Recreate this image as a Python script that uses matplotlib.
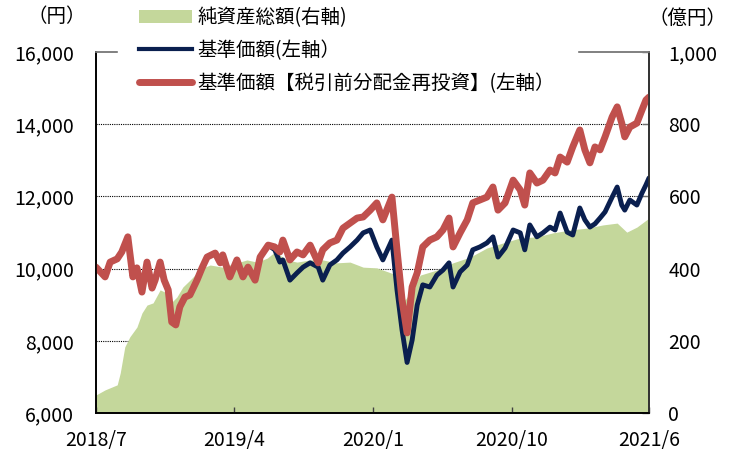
import matplotlib
matplotlib.use('Agg')
import matplotlib.pyplot as plt
from matplotlib.patches import Patch
from matplotlib.lines import Line2D
from matplotlib.ticker import FuncFormatter
import pandas as pd

plt.rcParams['font.family'] = ['Noto Sans CJK JP', 'DejaVu Sans']

start = pd.Timestamp('2018-07-01')
end = pd.Timestamp('2021-06-30')

# 基準価額の読み取り位置 (設定日からの日数)
line_days = [0, 18, 28, 42, 51, 63, 73, 81, 91, 101,
             111, 117, 127, 135, 143, 150, 158, 166, 176, 186,
             200, 210, 220, 236, 246, 251, 265, 279, 291, 301,
             315, 325, 341,
             354, 364, 370, 384, 398, 410, 424, 440, 449, 463,
             477, 489, 503, 517, 529, 543, 556, 568, 586, 596,
             606, 616, 626, 636, 647, 661, 675, 687, 699, 707,
             721, 735, 746, 760, 774, 786, 796, 810, 826, 840,
             849, 859, 873, 885, 899, 909,
             919, 933, 944, 958, 968, 978, 988, 998, 1008, 1022,
             1032, 1041, 1047, 1057, 1071, 1081, 1089, 1095]

# 基準価額【税引前分配金再投資】(円)
reinvest = [10040, 9770, 10180, 10270, 10460, 10880, 9770, 10020, 9350, 10180,
            9460, 9680, 10180, 9680, 9410, 8520, 8440, 8940, 9210, 9270,
            9680, 10020, 10320, 10430, 10160, 10380, 9770, 10240, 9770, 10040,
            9680, 10320, 10650,
            10600, 10460, 10790, 10240, 10460, 10380, 10650, 10160, 10520, 10710,
            10790, 11120, 11260, 11400, 11430, 11620, 11820, 11350, 11980, 10520,
            9130, 8220, 9490, 9880, 10600, 10790, 10880, 11070, 11400, 10600,
            10990, 11350, 11820, 11900, 11980, 12260, 11620, 11820, 12450, 12180,
            11760, 12650, 12370, 12450, 12730, 12650,
            13090, 12950, 13370, 13840, 13290, 12930, 13370, 13290, 13650, 14200,
            14480, 14030, 13650, 13920, 14030, 14390, 14670, 14750]

# 基準価額 (円)
nav = [10040, 9770, 10180, 10270, 10460, 10880, 9770, 10020, 9350, 10180,
       9460, 9680, 10180, 9680, 9410, 8520, 8440, 8940, 9210, 9270,
       9680, 10020, 10320, 10430, 10160, 10380, 9770, 10240, 9770, 10040,
       9680, 10320, 10650,
       10520, 10180, 10240, 9680, 9880, 10040, 10160, 10040, 9680, 10100,
       10240, 10430, 10600, 10790, 10990, 11070, 10600, 10240, 10790, 9410,
       8300, 7400, 8020, 8990, 9550, 9490, 9820, 9960, 10160, 9490,
       9910, 10100, 10520, 10600, 10710, 10880, 10320, 10570, 11070, 10990,
       10520, 11210, 10880, 10990, 11150, 11070,
       11540, 11010, 10930, 11680, 11350, 11150, 11240, 11400, 11570, 11980,
       12260, 11760, 11620, 11900, 11760, 12090, 12320, 12510]

# 純資産総額 (億円)
aum_days = [0, 18, 42, 48, 57, 67, 81, 91, 101, 113,
            127, 141, 150, 160, 172, 186, 200, 212, 226, 251,
            279, 299, 319, 339, 354, 378, 398, 424, 449, 477,
            503, 529, 556, 578, 596, 612, 626, 642, 675, 707,
            741, 774, 806, 840, 873, 905, 939, 972, 1004, 1032,
            1051, 1071, 1095]
aum = [50, 64, 78, 111, 183, 211, 238, 277, 299, 305,
       341, 332, 307, 321, 349, 368, 388, 402, 410, 404,
       416, 424, 418, 429, 446, 424, 418, 424, 424, 416,
       418, 404, 402, 391, 382, 313, 341, 382, 396, 416,
       432, 457, 471, 485, 488, 499, 507, 512, 521, 526,
       501, 515, 540]

tick_dates = ['2018-07-01', '2019-04-01', '2020-01-01', '2020-10-01', '2021-06-30']
tick_labels = ['2018/7', '2019/4', '2020/1', '2020/10', '2021/6']

line_dates = start + pd.to_timedelta(line_days, unit='D')
aum_dates = start + pd.to_timedelta(aum_days, unit='D')

green = '#c4d79b'
navy = '#0a1f4f'
red = '#c0504d'

fig = plt.figure(figsize=(7.36, 4.53), dpi=100)
ax = fig.add_axes([96 / 736, 1 - 413 / 453, (649 - 96) / 736, (413 - 52) / 453])
ax2 = ax.twinx()
ax.set_zorder(ax2.get_zorder() + 1)
ax.patch.set_visible(False)

# 純資産総額(右軸)
ax2.fill_between(aum_dates, aum, 0, color=green, lw=0, zorder=2)
ax2.set_ylim(0, 1000)
ax2.set_yticks(range(0, 1001, 200))
ax2.yaxis.set_major_formatter(FuncFormatter(lambda v, p: f'{int(v):,}'))
ax2.yaxis.grid(True, color='black', linestyle=(0, (1, 1)), lw=0.8, zorder=1)
grid_lines = ax2.yaxis.get_gridlines()
grid_lines[0].set_visible(False)
grid_lines[-1].set_visible(False)

# 基準価額(左軸)
ax.plot(line_dates, nav, color=navy, lw=3.5, solid_joinstyle='round',
        solid_capstyle='round')
ax.plot(line_dates, reinvest, color=red, lw=5, solid_joinstyle='round',
        solid_capstyle='round')
ax.set_ylim(6000, 16000)
ax.set_yticks(range(6000, 16001, 2000))
ax.yaxis.set_major_formatter(FuncFormatter(lambda v, p: f'{int(v):,}'))
ax.set_xlim(start, end)
ax.set_xticks(pd.to_datetime(tick_dates))
ax.set_xticklabels(tick_labels)

ax.tick_params(axis='y', length=0, pad=16, labelsize=14)
ax.tick_params(axis='x', direction='in', length=4, width=1, color='#404040',
               pad=12, labelsize=14)
ax2.tick_params(axis='y', direction='in', length=5, width=1, color='#707070',
                pad=14, labelsize=14)

for a in (ax, ax2):
    a.spines['left'].set_color('black')
    a.spines['bottom'].set_color('black')
    a.spines['right'].set_color('#303030')
    a.spines['top'].set_color('#808080')
    for s in a.spines.values():
        s.set_linewidth(1.2)

fig.text(57 / 736, 1 - 17 / 453, '（円）', fontsize=14, ha='center', va='center')
fig.text(688 / 736, 1 - 18 / 453, '（億円）', fontsize=14, ha='center', va='center')

handles = [Patch(facecolor=green, edgecolor='none'),
           Line2D([], [], color=navy, lw=3),
           Line2D([], [], color=red, lw=5, solid_capstyle='round')]
labels = ['純資産総額(右軸)', '基準価額(左軸）', '基準価額【税引前分配金再投資】(左軸）']
fig.legend(handles, labels, loc='upper left', bbox_to_anchor=(118 / 736, 1 + 14 / 453),
           frameon=True, facecolor='white', edgecolor='white', framealpha=1,
           fancybox=False, fontsize=14, handlelength=2.7, handletextpad=0.3,
           labelspacing=0.6, borderpad=1.1, borderaxespad=0)

fig.savefig('out.png', dpi=100)
